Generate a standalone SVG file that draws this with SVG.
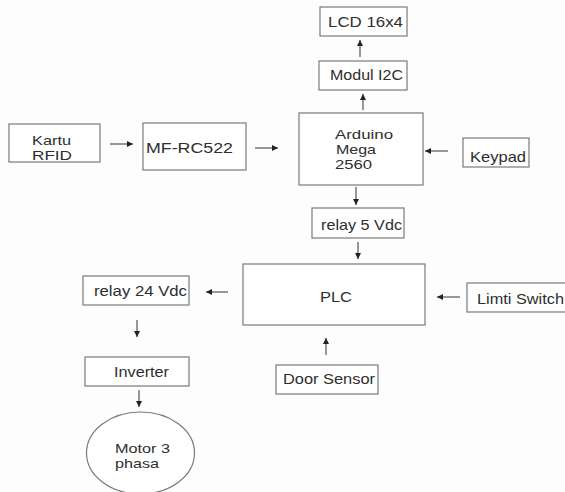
<svg xmlns="http://www.w3.org/2000/svg" width="565" height="492" viewBox="0 0 565 492">
<style>
.box{fill:#ffffff;stroke:#7a7a7a;stroke-width:1.2}
.t{font-family:"Liberation Sans",Arial,sans-serif;font-size:15px;fill:#2e2e2e}
.m{font-size:13px}
.c{stroke:#333;stroke-width:1;fill:none;marker-end:url(#ah)}
</style>
<defs>
<marker id="ah" markerUnits="userSpaceOnUse" markerWidth="8" markerHeight="8" refX="6" refY="3" orient="auto">
<path d="M0,0 L6,3 L0,6 Z" fill="#222"/>
</marker>
</defs>
<rect width="565" height="492" fill="#fdfdfd"/>
<g id="lcd"><rect class="box" x="320" y="7" width="87" height="29"/><text class="t" x="328" y="27" textLength="75" lengthAdjust="spacingAndGlyphs">LCD 16x4</text></g>
<g id="i2c"><rect class="box" x="319" y="61" width="88" height="29"/><text class="t" x="330" y="80" textLength="73" lengthAdjust="spacingAndGlyphs">Modul I2C</text></g>
<g id="arduino"><rect class="box" x="299" y="113" width="124" height="72"/>
<text class="t m" x="335" y="139" textLength="58" lengthAdjust="spacingAndGlyphs">Arduino</text>
<text class="t m" x="336" y="154" textLength="40" lengthAdjust="spacingAndGlyphs">Mega</text>
<text class="t m" x="335" y="169" textLength="37" lengthAdjust="spacingAndGlyphs">2560</text></g>
<g id="kartu"><rect class="box" x="9" y="124" width="91" height="38"/>
<text class="t m" x="32" y="145" textLength="39" lengthAdjust="spacingAndGlyphs">Kartu</text>
<text class="t m" x="32" y="160" textLength="40" lengthAdjust="spacingAndGlyphs">RFID</text></g>
<g id="mfrc"><rect class="box" x="143" y="123" width="103" height="47"/><text class="t" x="146" y="153" textLength="87" lengthAdjust="spacingAndGlyphs">MF-RC522</text></g>
<g id="keypad"><rect class="box" x="463" y="138" width="66" height="29"/><text class="t" x="470" y="162" textLength="56" lengthAdjust="spacingAndGlyphs">Keypad</text></g>
<g id="relay5"><rect class="box" x="312" y="208" width="92" height="30"/><text class="t" x="321" y="230" textLength="81" lengthAdjust="spacingAndGlyphs">relay 5 Vdc</text></g>
<g id="plc"><rect class="box" x="243" y="264" width="182" height="61"/><text class="t" x="320" y="302" textLength="32" lengthAdjust="spacingAndGlyphs">PLC</text></g>
<g id="relay24"><rect class="box" x="83" y="276" width="106" height="29"/><text class="t" x="94" y="296" textLength="93" lengthAdjust="spacingAndGlyphs">relay 24 Vdc</text></g>
<g id="limit"><rect class="box" x="467" y="283" width="100" height="29"/><text class="t" x="477" y="304" textLength="87" lengthAdjust="spacingAndGlyphs">Limti Switch</text></g>
<g id="inverter"><rect class="box" x="85" y="357" width="104" height="29"/><text class="t" x="114" y="377" textLength="55" lengthAdjust="spacingAndGlyphs">Inverter</text></g>
<g id="door"><rect class="box" x="276" y="365" width="102" height="29"/><text class="t" x="283" y="384" textLength="92" lengthAdjust="spacingAndGlyphs">Door Sensor</text></g>
<g id="motor"><ellipse class="box" cx="140.5" cy="453" rx="54" ry="41"/>
<text class="t m" x="115" y="453" textLength="55" lengthAdjust="spacingAndGlyphs">Motor 3</text>
<text class="t m" x="115" y="468" textLength="44" lengthAdjust="spacingAndGlyphs">phasa</text></g>
<g id="connectors">
<line class="c" x1="110" y1="144" x2="133" y2="144"/>
<line class="c" x1="255" y1="148" x2="278" y2="148"/>
<line class="c" x1="448" y1="151" x2="425" y2="151"/>
<line class="c" x1="363" y1="110" x2="363" y2="94"/>
<line class="c" x1="360" y1="57" x2="360" y2="40"/>
<line class="c" x1="356" y1="187" x2="356" y2="205"/>
<line class="c" x1="358" y1="242" x2="358" y2="259"/>
<line class="c" x1="228" y1="292" x2="206" y2="292"/>
<line class="c" x1="460" y1="297" x2="437" y2="297"/>
<line class="c" x1="326" y1="355" x2="326" y2="338"/>
<line class="c" x1="137" y1="320" x2="137" y2="337"/>
<line class="c" x1="139" y1="390" x2="139" y2="407"/>
</g>
</svg>
